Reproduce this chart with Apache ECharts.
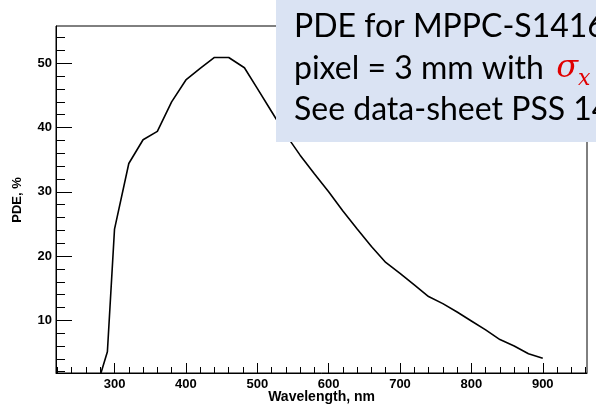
<!DOCTYPE html>
<html>
<head>
<meta charset="utf-8">
<script src="https://cdn.jsdelivr.net/npm/echarts@6/dist/echarts.min.js"></script>
<style>
html,body{margin:0;padding:0;background:#fff;}
#chart{width:596px;height:406px;}
</style>
</head>
<body>
<div id="chart"></div>
<script>
// Wavelength (nm) and PDE (%)
const wavelength = [281, 290, 300, 320, 340, 360, 380, 400, 420, 440, 460, 482, 500, 520, 540, 560, 580, 600, 620, 640, 660, 680, 700, 720, 740, 760, 780, 800, 820, 840, 860, 880, 900];
const pde =        [1.8, 5.1, 24.2, 34.4, 38.1, 39.4, 44.0, 47.4, 49.2, 50.9, 50.9, 49.3, 46.1, 42.5, 38.9, 35.7, 32.8, 30.0, 27.0, 24.2, 21.5, 19.0, 17.3, 15.5, 13.7, 12.6, 11.3, 9.9, 8.5, 7.0, 6.0, 4.8, 4.1];

const xMajorTicks = [300, 400, 500, 600, 700, 800, 900];
const xMinorTicks = [220, 240, 260, 280, 320, 340, 360, 380, 420, 440, 460, 480, 520, 540, 560, 580, 620, 640, 660, 680, 720, 740, 760, 780, 820, 840, 860, 880, 920, 940, 960];
const yMajorTicks = [10, 20, 30, 40, 50];
const yMinorTicks = [2, 4, 6, 8, 12, 14, 16, 18, 22, 24, 26, 28, 32, 34, 36, 38, 42, 44, 46, 48, 52, 54];

const xTitle = 'Wavelength, nm';
const yTitle = 'PDE, %';
const noteLines = ['PDE for MPPC-S14160', 'pixel = 3 mm with ', 'See data-sheet PSS 14160'];
const sigmaText = 'σ';
const sigmaSub = 'x';

const chart = echarts.init(document.getElementById('chart'), null, {renderer: 'canvas'});
const lblFont = {color: '#000', fontFamily: 'Liberation Sans, Arial, sans-serif', fontWeight: 'bold', fontSize: 13};
const noteFont = '32px Lato, sans-serif';
const sigmaFont = 'italic 32px "DejaVu Serif", serif';
const subFont = 'italic 22px "DejaVu Serif", serif';

const mctx = document.createElement('canvas').getContext('2d');
function tw(t, f) { mctx.font = f; return mctx.measureText(t).width; }
const noteX = 294;
const w1 = tw(noteLines[1], noteFont);
const wS = tw(sigmaText, sigmaFont);

chart.setOption({
  animation: false,
  backgroundColor: '#fff',
  grid: {left: 56, top: 26, right: 9, bottom: 33, show: true, borderColor: '#000', borderWidth: 1, backgroundColor: 'transparent'},
  xAxis: [{
    type: 'value', min: 218, max: 962,
    axisLine: {show: true, lineStyle: {color: '#000', width: 1}},
    axisTick: {show: true, inside: true, length: 10, customValues: xMajorTicks, lineStyle: {color: '#000'}},
    axisLabel: Object.assign({customValues: xMajorTicks, margin: 5}, lblFont),
    splitLine: {show: false}
  }, {
    type: 'value', min: 218, max: 962, position: 'bottom',
    axisLine: {show: false},
    axisTick: {show: true, inside: true, length: 6, customValues: xMinorTicks, lineStyle: {color: '#000'}},
    axisLabel: {show: false},
    splitLine: {show: false}
  }],
  yAxis: [{
    type: 'value', min: 1.8, max: 55.8,
    axisLine: {show: true, lineStyle: {color: '#000', width: 1}},
    axisTick: {show: true, inside: true, length: 16, customValues: yMajorTicks, lineStyle: {color: '#000'}},
    axisLabel: Object.assign({customValues: yMajorTicks, margin: 4}, lblFont),
    splitLine: {show: false}
  }, {
    type: 'value', min: 1.8, max: 55.8, position: 'left',
    axisLine: {show: false},
    axisTick: {show: true, inside: true, length: 9, customValues: yMinorTicks, lineStyle: {color: '#000'}},
    axisLabel: {show: false},
    splitLine: {show: false}
  }],
  series: [{
    type: 'line',
    data: wavelength.map((w, i) => [w, pde[i]]),
    showSymbol: false,
    lineStyle: {color: '#000', width: 1.6},
    z: 3
  }],
  graphic: [
    {type: 'text', x: 375, y: 390, style: {text: xTitle, fill: '#000', font: 'bold 14px "Liberation Sans", Arial, sans-serif', align: 'right', verticalAlign: 'top'}},
    {type: 'text', x: 17, y: 200, rotation: Math.PI / 2, style: {text: yTitle, fill: '#000', font: 'bold 13px "Liberation Sans", Arial, sans-serif', align: 'center', verticalAlign: 'middle'}},
    {type: 'rect', shape: {x: 276, y: 0, width: 330, height: 142}, style: {fill: '#dae3f3'}, z: 100},
    {type: 'text', x: noteX, y: 11, z: 101, style: {text: noteLines[0], fill: '#000', font: noteFont, verticalAlign: 'top'}},
    {type: 'text', x: noteX, y: 53, z: 101, style: {text: noteLines[1], fill: '#000', font: noteFont, verticalAlign: 'top'}},
    {type: 'text', x: noteX + w1 + 4, y: 53, z: 101, style: {text: sigmaText, fill: '#e00000', font: sigmaFont, verticalAlign: 'top'}},
    {type: 'text', x: noteX + w1 + 4 + wS, y: 68, z: 101, style: {text: sigmaSub, fill: '#e00000', font: subFont, verticalAlign: 'top'}},
    {type: 'text', x: noteX, y: 94, z: 101, style: {text: noteLines[2], fill: '#000', font: noteFont, verticalAlign: 'top'}}
  ]
});
</script>
</body>
</html>
